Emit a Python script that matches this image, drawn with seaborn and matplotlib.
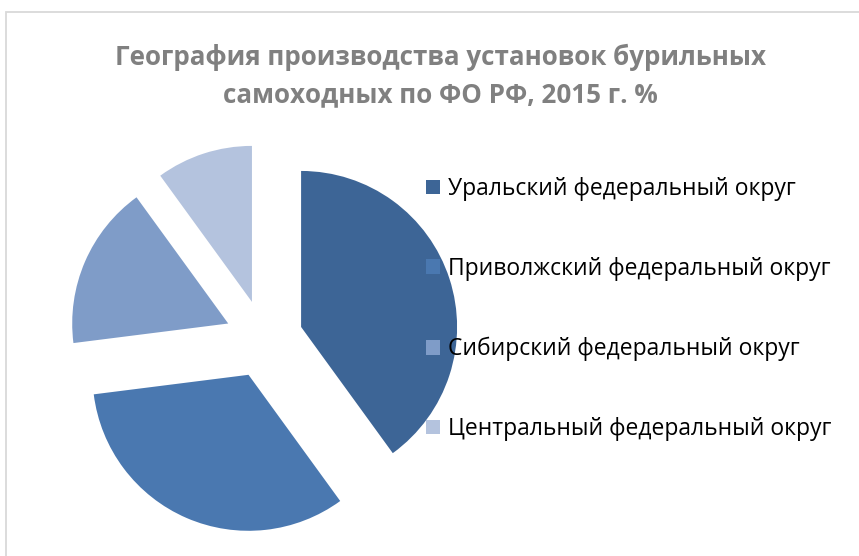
import matplotlib
matplotlib.use('Agg')
import matplotlib.pyplot as plt
import seaborn as sns
from matplotlib.patches import Rectangle

sns.set_theme(style='white')
plt.rcParams['font.family'] = ['Open Sans', 'DejaVu Sans']

# данные
okruga = ['Уральский федеральный округ', 'Приволжский федеральный округ',
          'Сибирский федеральный округ', 'Центральный федеральный округ']
doli = [40, 33, 17, 10]
colors = ['#3D6596', '#4A78B0', '#7F9CC8', '#B4C3DE']
title = 'География производства установок бурильных\nсамоходных по ФО РФ, 2015 г. %'

W, H = 859, 556
fig = plt.figure(figsize=(W / 100, H / 100), dpi=100)

# рамка диаграммы
fig.patches.append(Rectangle((6 / W, -0.05), 1.1, (H - 12) / H + 0.05,
                             transform=fig.transFigure, fill=False,
                             edgecolor='#D9D9D9', lw=1.3))

# пирог
R = 156
cx, cy = 264, 339
lim = 1.3
side = 2 * lim * R
ax = fig.add_axes([(cx - side / 2) / W, (H - cy - side / 2) / H, side / W, side / H])
wedges, _ = ax.pie(doli, colors=colors, startangle=90, counterclock=False,
                   explode=[0.25] * 4, radius=1, wedgeprops={'linewidth': 0})
ax.set_xlim(-lim, lim)
ax.set_ylim(-lim, lim)
ax.set_aspect('equal')
ax.axis('off')

fig.text(440 / W, 1 - 76 / H, title, ha='center', va='center', fontsize=18.7,
         fontweight='bold', color='#808080', linespacing=1.45)

leg = fig.legend(wedges, okruga, loc='upper left', bbox_to_anchor=(426 / W, 1 - 177 / H),
                 frameon=False, fontsize=16.5, handlelength=0.62, handleheight=0.62,
                 handletextpad=0.35, labelspacing=2.44, borderpad=0, borderaxespad=0)
for t in leg.get_texts():
    t.set_color('#000000')

fig.savefig('out.png', dpi=100)
